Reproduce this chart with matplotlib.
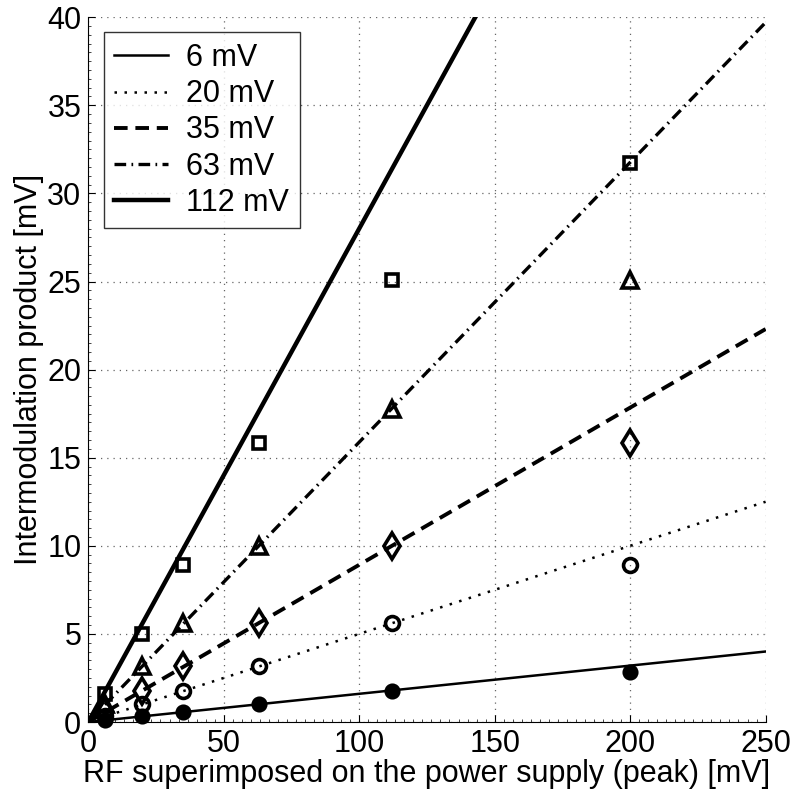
import numpy as np
import matplotlib
matplotlib.use("Agg")
import matplotlib.pyplot as plt
from matplotlib.ticker import MultipleLocator

plt.rcParams['font.family'] = ['Liberation Sans', 'DejaVu Sans']

# RF amplitude on supply (x) for measured points
x_meas = [6, 20, 35, 63, 112, 200]
labels = ['6 mV', '20 mV', '35 mV', '63 mV', '112 mV']

# measured intermodulation product [mV]
y_6 = [0.1, 0.32, 0.56, 1.0, 1.78, 2.82]
y_20 = [0.32, 1.0, 1.78, 3.16, 5.62, 8.91]
y_35 = [0.56, 1.78, 3.16, 5.62, 10.0, 15.85]
y_63 = [1.0, 3.16, 5.62, 10.0, 17.78, 25.1]
y_112 = [1.6, 5.01, 8.91, 15.85, 25.1, 31.7]

# fitted lines: value at x=0 and x=250
x_line = [0, 250]
line_end = [4.0, 12.5, 22.3, 39.7, 70.0]

fig = plt.figure(figsize=(7.95, 8.0), dpi=100)
ax = fig.add_axes([0.111, 0.0975, 0.852, 0.881])

styles = [
    dict(ls='-', lw=1.8),
    dict(ls=(0, (1, 3)), lw=1.8),
    dict(ls=(0, (3.5, 2)), lw=2.8),
    dict(ls=(0, (3.5, 1.6, 0.5, 1.6)), lw=2.4),
    dict(ls='-', lw=3.2),
]
for end, lab, st in zip(line_end, labels, styles):
    ax.plot(x_line, [0, end], color='black', label=lab, **st)

mk = dict(color='black', ls='none', mew=2.6, clip_on=False)
ax.plot(x_meas, y_6, marker='o', ms=9, mfc='black', **mk)
ax.plot(x_meas, y_20, marker='o', ms=10, mfc='none', **mk)
ax.plot(x_meas, y_35, marker='d', ms=13, mfc='none', **mk)
ax.plot(x_meas, y_63, marker='^', ms=12, mfc='none', **mk)
ax.plot(x_meas, y_112, marker='s', ms=9, mfc='none', **mk)

ax.set_xlim(0, 250)
ax.set_ylim(0, 40)
ax.xaxis.set_major_locator(MultipleLocator(50))
ax.yaxis.set_major_locator(MultipleLocator(5))
ax.xaxis.set_minor_locator(MultipleLocator(10 / 3))
ax.yaxis.set_minor_locator(MultipleLocator(0.5))
ax.tick_params(which='both', direction='in', labelsize=22)
ax.tick_params(which='major', length=5, pad=5)
ax.tick_params(which='minor', length=2, width=0.7, color='#444444')
ax.spines['top'].set_visible(False)
ax.spines['right'].set_visible(False)
ax.grid(True, which='major', ls=(0, (1, 4)), color='#666666', lw=0.9)

ax.set_xlabel('RF superimposed on the power supply (peak) [mV]', fontsize=22, labelpad=0)
ax.set_ylabel('Intermodulation product [mV]', fontsize=22, labelpad=2)

leg = ax.legend(loc='upper left', fontsize=22, frameon=True, fancybox=False,
                edgecolor='black', handlelength=1.75, handletextpad=0.6,
                borderpad=0.35, labelspacing=0.2, borderaxespad=0.5,
                bbox_to_anchor=(0, 1))
leg.get_frame().set_linewidth(1.0)

fig.savefig('out.png', dpi=100)
